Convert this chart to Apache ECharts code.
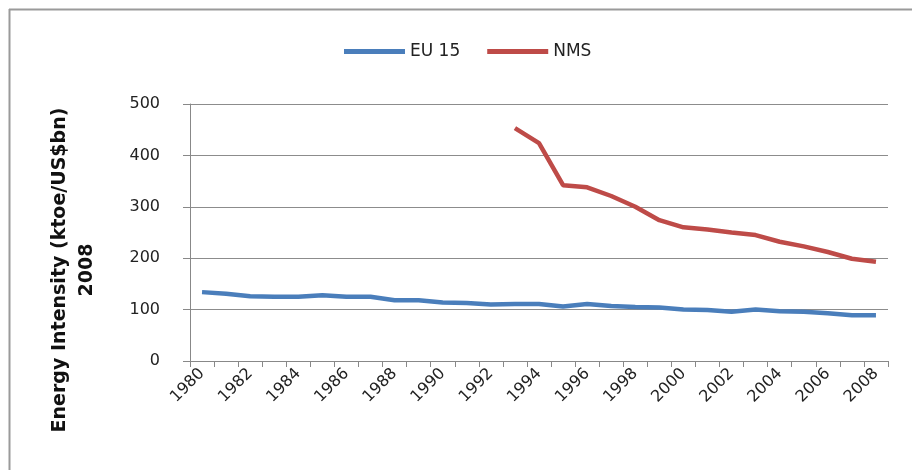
<!DOCTYPE html>
<html>
<head>
<meta charset="utf-8">
<script src="https://cdn.jsdelivr.net/npm/echarts@6/dist/echarts.min.js"></script>
<style>html,body{margin:0;padding:0;background:#fff}#c{width:912px;height:470px}</style>
</head>
<body>
<div id="c"></div>
<script>
var years = ['1980','1981','1982','1983','1984','1985','1986','1987','1988','1989','1990','1991','1992','1993','1994','1995','1996','1997','1998','1999','2000','2001','2002','2003','2004','2005','2006','2007','2008'];
var eu15 = [134,131,126,125,125,128,125,125,118,118,114,113,110,111,111,106,111,107,105,104,100,99,96,100,97,96,93,89,89];
var nms = [null,null,null,null,null,null,null,null,null,null,null,null,null,453,424,342,338,321,300,274,260,256,250,245,232,223,212,199,193];
var yTicks = [0,100,200,300,400,500];
var seriesNames = ['EU 15','NMS'];
var titleLines = ['Energy Intensity (ktoe/US$bn)','2008'];

var font = 'DejaVu Sans';
var chart = echarts.init(document.getElementById('c'));
chart.setOption({
  animation: false,
  backgroundColor: '#fff',
  color: ['#4a7ebb','#be4b48'],
  grid: {left: 190, right: 24, top: 104, bottom: 109},
  legend: {
    data: seriesNames,
    left: 339, top: 38,
    icon: 'rect', itemWidth: 61, itemHeight: 5, itemGap: 27,
    textStyle: {fontFamily: font, fontSize: 17, color: '#222'}
  },
  xAxis: {
    type: 'category', data: years, boundaryGap: true,
    axisLine: {lineStyle: {color: '#888', width: 1}},
    axisTick: {show: true, interval: 0, length: 6, lineStyle: {color: '#888'}},
    axisLabel: {interval: 1, rotate: 45, margin: 10, fontFamily: font, fontSize: 16, color: '#222'}
  },
  yAxis: {
    type: 'value', min: yTicks[0], max: yTicks[yTicks.length-1], interval: 100,
    axisLine: {show: true, lineStyle: {color: '#888', width: 1}},
    axisTick: {show: true, length: 7, lineStyle: {color: '#888'}},
    axisLabel: {margin: 30, fontFamily: font, fontSize: 16, color: '#222'},
    splitLine: {lineStyle: {color: '#8c8c8c', width: 1}}
  },
  graphic: [
    {type: 'line', shape: {x1: 9, y1: 9.5, x2: 912, y2: 9.5}, style: {stroke: '#9a9a9a', lineWidth: 2}},
    {type: 'line', shape: {x1: 9.5, y1: 9, x2: 9.5, y2: 470}, style: {stroke: '#9a9a9a', lineWidth: 2}},
    {type: 'text', x: 74, y: 270, rotation: Math.PI/2,
     style: {text: titleLines.join('\n'), fontFamily: font, fontWeight: 'bold', fontSize: 19, lineHeight: 27,
             fill: '#111', textAlign: 'center', textVerticalAlign: 'middle'}}
  ],
  series: [
    {name: seriesNames[0], type: 'line', data: eu15, showSymbol: false, symbol: 'none',
     lineStyle: {width: 4.5, color: '#4a7ebb'}},
    {name: seriesNames[1], type: 'line', data: nms, showSymbol: false, symbol: 'none',
     lineStyle: {width: 4.5, color: '#be4b48'}}
  ]
});
</script>
</body>
</html>
